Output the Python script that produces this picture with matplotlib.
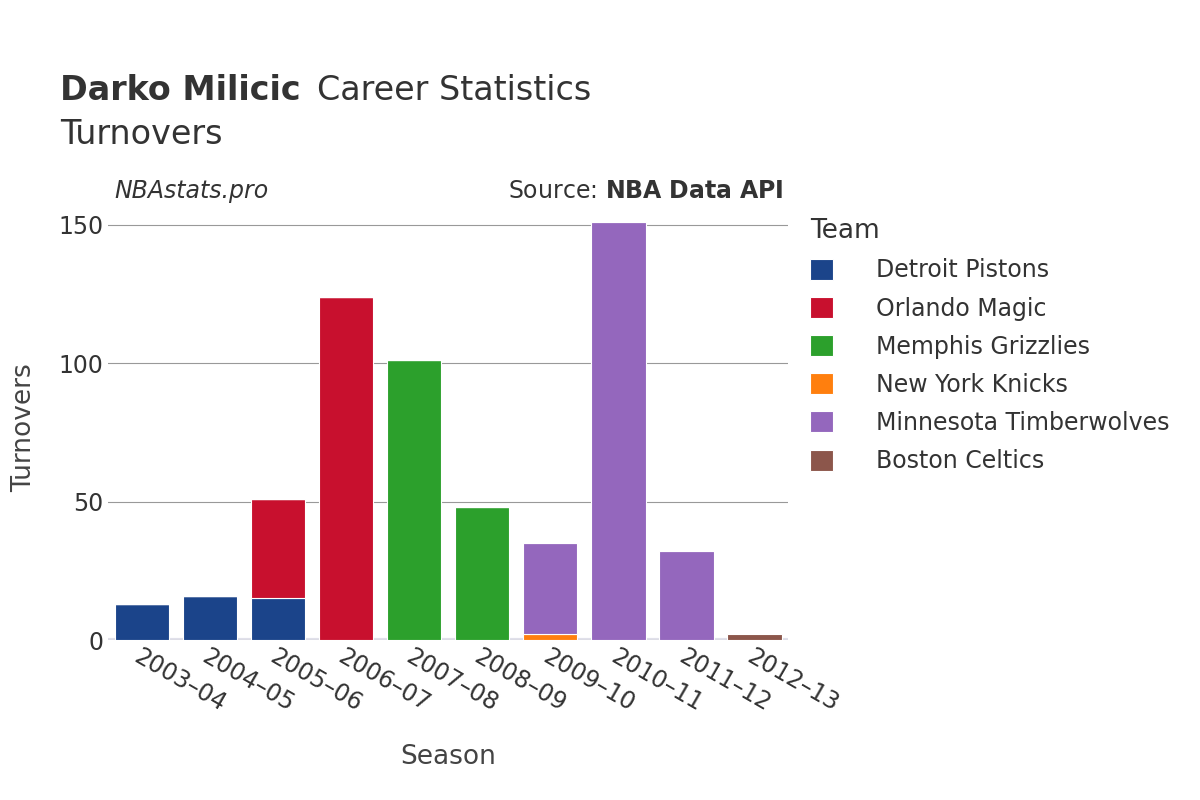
import numpy as np
import matplotlib.pyplot as plt

seasons = ["2003–04", "2004–05", "2005–06", "2006–07", "2007–08",
           "2008–09", "2009–10", "2010–11", "2011–12", "2012–13"]
teams = ["Detroit Pistons", "Orlando Magic", "Memphis Grizzlies",
         "New York Knicks", "Minnesota Timberwolves", "Boston Celtics"]
colors = ["#1b448a", "#c8102e", "#2ca02c", "#ff7f0e", "#9467bd", "#8c564b"]

detroit = [13, 16, 15, 0, 0, 0, 0, 0, 0, 0]
orlando = [0, 0, 36, 124, 0, 0, 0, 0, 0, 0]
memphis = [0, 0, 0, 0, 101, 48, 0, 0, 0, 0]
knicks = [0, 0, 0, 0, 0, 0, 2, 0, 0, 0]
minnesota = [0, 0, 0, 0, 0, 0, 33, 151, 32, 0]
boston = [0, 0, 0, 0, 0, 0, 0, 0, 0, 2]
series = [detroit, orlando, memphis, knicks, minnesota, boston]

fig = plt.figure(figsize=(12, 8), dpi=100)
ax = fig.add_axes([0.09, 0.2, 0.567, 0.53])

x = np.arange(len(seasons))
bottom = np.zeros(len(seasons))
for name, vals, c in zip(teams, series, colors):
    vals = np.array(vals, dtype=float)
    ax.bar(x, vals, 0.8, bottom=bottom, color=c, edgecolor="white",
           linewidth=0.8, label=name)
    bottom += vals

ax.set_xlim(-0.5, len(seasons) - 0.5)
ax.set_ylim(0, 153.2)
ax.set_yticks([0, 50, 100, 150])
ax.grid(axis="y", color="#999999", linewidth=0.8)
ax.set_axisbelow(True)
for s in ax.spines.values():
    s.set_visible(False)
ax.axhline(0, color="#e0e0ea", linewidth=3, zorder=0)
ax.tick_params(length=0, labelsize=17, colors="#333333")
ax.set_xticks(x)
ax.set_xticklabels(seasons, rotation=-30, ha="left", rotation_mode="anchor")
ax.set_xlabel("Season", fontsize=19, color="#444444", labelpad=20)
ax.set_ylabel("Turnovers", fontsize=19, color="#444444", labelpad=15)

fig.text(0.05, 0.875, "Darko Milicic", fontsize=24, fontweight="bold", color="#333333")
fig.text(0.264, 0.875, "Career Statistics", fontsize=24, color="#333333")
fig.text(0.05, 0.82, "Turnovers", fontsize=24, color="#333333")
fig.text(0.095, 0.752, "NBAstats.pro", fontsize=17, style="italic", color="#333333")
fig.text(0.653, 0.752, "Source: $\\bf{NBA\\ Data\\ API}$", fontsize=17,
         color="#333333", ha="right")

leg = ax.legend(title="Team", loc="upper left", bbox_to_anchor=(1.0, 1.045),
                frameon=False, fontsize=17, title_fontsize=19, handlelength=1,
                handleheight=1, labelspacing=0.6, handletextpad=1.8)
leg._legend_box.align = "left"
for t in leg.get_texts():
    t.set_color("#333333")
leg.get_title().set_color("#333333")

fig.savefig("out.png")
